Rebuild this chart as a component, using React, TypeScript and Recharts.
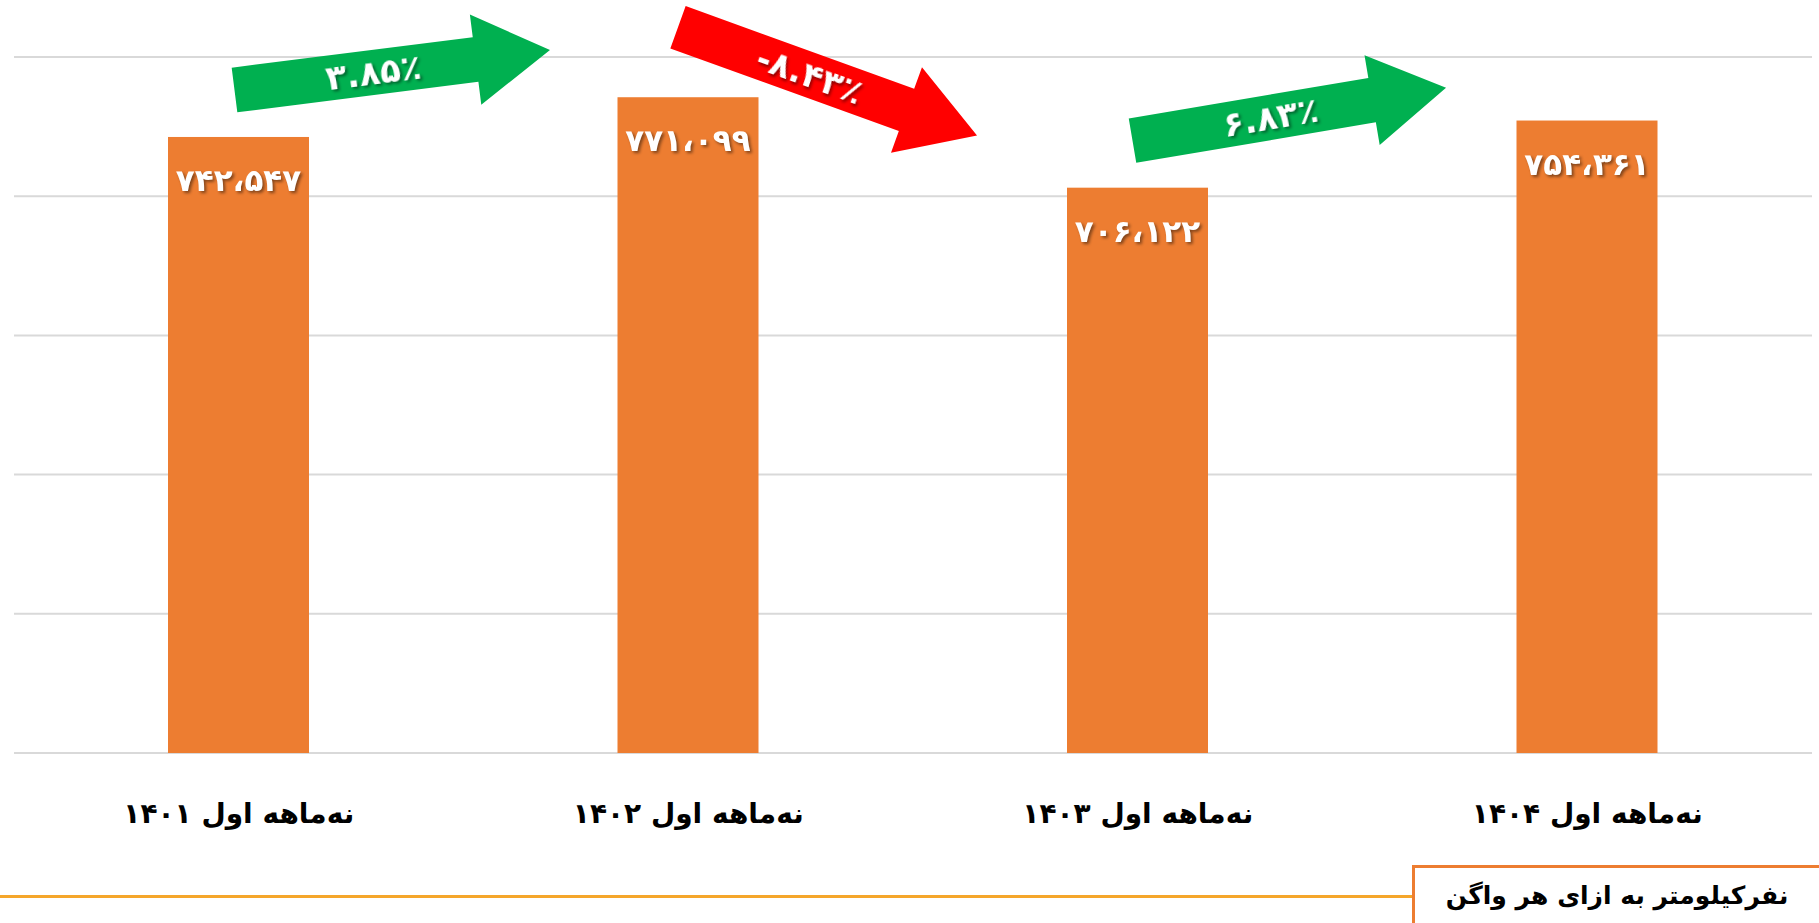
import React from 'react';
import { BarChart, Bar, XAxis, YAxis, CartesianGrid } from 'recharts';

const categories = ['نه‌ماهه اول ۱۴۰۱', 'نه‌ماهه اول ۱۴۰۲', 'نه‌ماهه اول ۱۴۰۳', 'نه‌ماهه اول ۱۴۰۴'];
const values = [742547, 771099, 706122, 754361];
const changeLabels = ['۳.۸۵٪', '-۸.۴۳٪', '۶.۸۳٪'];
const yTicks = [300000, 400000, 500000, 600000, 700000, 800000];
const unitLabel = 'نفرکیلومتر به ازای هر واگن';

const data = categories.map((name, i) => ({ name, value: values[i] }));

const FONT = '"DejaVu Sans", sans-serif';
const BAR_COLOR = '#ED7D31';
const SHADOW = 'drop-shadow(2px 2px 1.5px rgba(0,0,0,0.45))';

// arrow styling per change annotation (angle in degrees, offset of tail from bar top-centre)
const ARROWS = [
    { color: '#00B050', angle: -7.2, dx: -4, dy: -47 },
    { color: '#FF0000', angle: 19.9, dx: -10, dy: -70 },
    { color: '#00B050', angle: -9.6, dx: -5, dy: -47 },
];
const ARROW_LEN = 318;
const HEAD_LEN = 75;
const HEAD_HALF = 45.5;
const SHAFT_HALF = 22.5;

const toFa = (s: string) => s.replace(/\d/g, d => '۰۱۲۳۴۵۶۷۸۹'[+d]);
const formatValue = (v: number) => toFa(v.toLocaleString('en-US')).replace(/,/g, '،');

const arrowPoints = () => {
    const b = ARROW_LEN - HEAD_LEN;
    return [
        [0, -SHAFT_HALF], [b, -SHAFT_HALF], [b, -HEAD_HALF], [ARROW_LEN, 0],
        [b, HEAD_HALF], [b, SHAFT_HALF], [0, SHAFT_HALF],
    ].map(p => p.join(',')).join(' ');
};

const BarWithLabels = (props: any) => {
    const { x, y, width, height, index, value } = props;
    const cx = x + width / 2;
    const v = Array.isArray(value) ? value[1] : value;
    const arrow = ARROWS[index];
    return (
        <g>
            <rect x={x} y={y} width={width} height={height} fill={BAR_COLOR} />
            <text
                x={cx}
                y={y + 43}
                textAnchor="middle"
                dominantBaseline="central"
                fill="#fff"
                fontFamily={FONT}
                fontWeight="bold"
                fontSize={31}
                style={{ filter: SHADOW }}
            >
                {formatValue(v)}
            </text>
            {arrow && index < changeLabels.length && (
                <g transform={`translate(${cx + arrow.dx},${y + arrow.dy}) rotate(${arrow.angle})`}>
                    <polygon points={arrowPoints()} fill={arrow.color} />
                    <text
                        x={140}
                        y={0}
                        textAnchor="middle"
                        dominantBaseline="central"
                        fill="#fff"
                        fontFamily={FONT}
                        fontWeight="bold"
                        fontSize={34}
                        style={{ filter: SHADOW }}
                    >
                        {changeLabels[index]}
                    </text>
                </g>
            )}
        </g>
    );
};

const CategoryTick = (props: any) => {
    const { x, y, payload } = props;
    return (
        <text
            x={x}
            y={y + 52}
            textAnchor="middle"
            dominantBaseline="central"
            fill="#000"
            fontFamily={FONT}
            fontWeight="bold"
            fontSize={28}
        >
            {payload.value}
        </text>
    );
};

const App: React.FC = () => {
    return (
        <div style={{ position: 'absolute', left: 0, top: 0, width: 1819, height: 923, background: '#fff', overflow: 'hidden' }}>
            <BarChart
                width={1819}
                height={860}
                data={data}
                margin={{ top: 57, right: 7, left: 14, bottom: 0 }}
                barSize={141}
            >
                <CartesianGrid vertical={false} stroke="#D9D9D9" strokeWidth={2} />
                <XAxis
                    dataKey="name"
                    height={107}
                    axisLine={false}
                    tickLine={false}
                    tick={<CategoryTick />}
                    interval={0}
                />
                <YAxis hide domain={[300000, 800000]} ticks={yTicks} />
                <Bar dataKey="value" isAnimationActive={false} shape={<BarWithLabels />} />
            </BarChart>
            <div style={{ position: 'absolute', left: 0, top: 895, width: 1413, height: 3, background: '#F5A62A' }} />
            <div
                style={{
                    position: 'absolute',
                    left: 1412,
                    top: 865,
                    width: 407,
                    height: 58,
                    borderTop: `3px solid ${BAR_COLOR}`,
                    borderLeft: `3px solid ${BAR_COLOR}`,
                    boxSizing: 'border-box',
                    display: 'flex',
                    alignItems: 'center',
                    justifyContent: 'center',
                    fontFamily: FONT,
                    fontWeight: 'bold',
                    fontSize: 25,
                    color: '#000',
                    direction: 'rtl',
                }}
            >
                {unitLabel}
            </div>
        </div>
    );
};

export default App;
